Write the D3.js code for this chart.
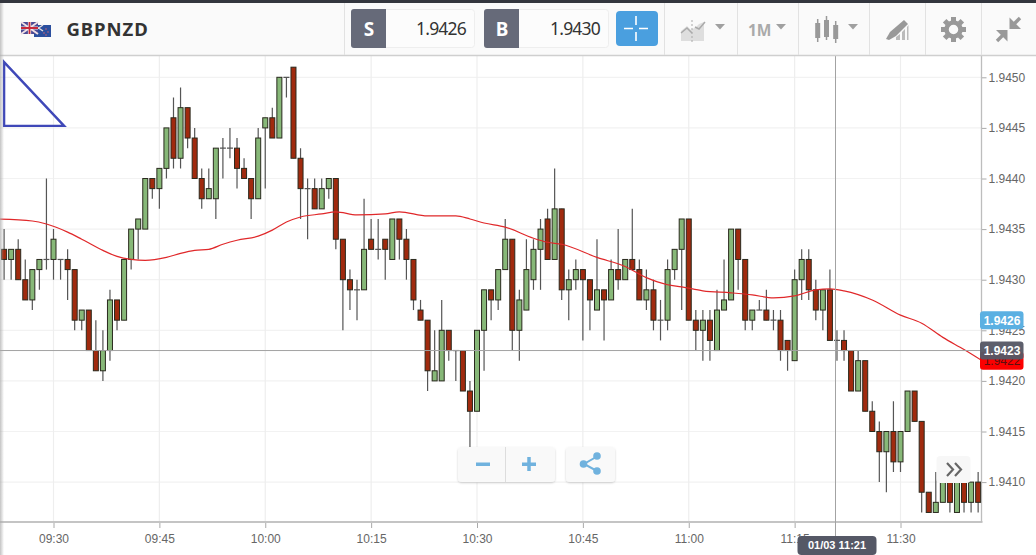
<!DOCTYPE html>
<html lang="en">
<head>
<meta charset="UTF-8">
<title>GBPNZD</title>
<script src="https://d3js.org/d3.v7.min.js"></script>
<style>
  html, body { margin: 0; padding: 0; background: #fff; overflow: hidden; }
  svg { display: block; }
  .axis-label { font-family: "Liberation Sans", Arial, sans-serif; font-size: 12px; fill: #666; }
  .bar-text { font-family: "Noto Sans", "Open Sans", sans-serif; }
</style>
</head>
<body>
<svg id="chart" width="1036" height="555"></svg>
<script>
// one candle per minute, starting at 09:23
const firstCandle = "09:23";
const opens = [
  1.9433,1.9432,1.9433,1.9430,1.9428,1.9431,1.9432,1.9432,1.9432,1.9432,
  1.9431,1.9426,1.9427,1.9423,1.9421,1.9423,1.9428,1.9426,1.9432,1.9435,
  1.9435,1.9440,1.9439,1.9441,1.9446,1.9442,1.9447,1.9444,1.9440,1.9438,
  1.9438,1.9443,1.9443,1.9443,1.9441,1.9440,1.9438,1.9445,1.9446,1.9444,
  1.9450,1.9451,1.9442,1.9439,1.9439,1.9437,1.9439,1.9440,1.9434,1.9430,
  1.9429,1.9429,1.9434,1.9433,1.9434,1.9432,1.9436,1.9434,1.9432,1.9427,
  1.9426,1.9420,1.9420,1.9425,1.9423,1.9423,1.9419,1.9417,1.9425,1.9429,
  1.9428,1.9431,1.9434,1.9425,1.9427,1.9430,1.9433,1.9436,1.9432,1.9437,
  1.9429,1.9430,1.9431,1.9430,1.9427,1.9429,1.9428,1.9431,1.9430,1.9432,
  1.9431,1.9428,1.9429,1.9426,1.9426,1.9431,1.9433,1.9436,1.9426,1.9425,
  1.9426,1.9423,1.9427,1.9428,1.9435,1.9432,1.9426,1.9427,1.9427,1.9426,
  1.9426,1.9424,1.9422,1.9430,1.9432,1.9429,1.9427,1.9429,1.9424,1.9424,
  1.9423,1.9419,1.9422,1.9417,1.9415,1.9413,1.9415,1.9412,1.9415,1.9419,
  1.9416,1.9409,1.9407,1.9408,1.9410,1.9407,1.9410,1.9408,1.9410
];
const highs = [
  1.9435,1.9433,1.9434,1.9432,1.9431,1.9432,1.9440,1.9435,1.9432,1.9433,
  1.9431,1.9427,1.9427,1.9426,1.9425,1.9429,1.9428,1.9432,1.9435,1.9436,
  1.9440,1.9440,1.9441,1.9445,1.9448,1.9449,1.9447,1.9445,1.9441,1.9441,
  1.9443,1.9444,1.9445,1.9444,1.9442,1.9440,1.9445,1.9446,1.9447,1.9450,
  1.9450,1.9451,1.9443,1.9440,1.9440,1.9440,1.9440,1.9440,1.9434,1.9431,
  1.9430,1.9438,1.9436,1.9436,1.9434,1.9436,1.9436,1.9435,1.9432,1.9428,
  1.9426,1.9425,1.9428,1.9425,1.9423,1.9423,1.9420,1.9425,1.9429,1.9429,
  1.9431,1.9436,1.9434,1.9429,1.9434,1.9434,1.9436,1.9437,1.9441,1.9437,
  1.9431,1.9432,1.9431,1.9430,1.9434,1.9429,1.9432,1.9435,1.9432,1.9437,
  1.9432,1.9431,1.9430,1.9428,1.9432,1.9433,1.9436,1.9436,1.9427,1.9427,
  1.9427,1.9429,1.9432,1.9435,1.9435,1.9432,1.9427,1.9428,1.9429,1.9427,
  1.9427,1.9424,1.9431,1.9433,1.9433,1.9430,1.9429,1.9431,1.9425,1.9425,
  1.9423,1.9423,1.9422,1.9418,1.9416,1.9415,1.9418,1.9415,1.9419,1.9419,
  1.9416,1.9409,1.9411,1.9410,1.9410,1.9410,1.9410,1.9410,1.9411
];
const lows = [
  1.9430,1.9430,1.9430,1.9428,1.9427,1.9429,1.9431,1.9430,1.9430,1.9428,
  1.9425,1.9425,1.9423,1.9421,1.9420,1.9422,1.9425,1.9426,1.9431,1.9432,
  1.9435,1.9438,1.9437,1.9440,1.9441,1.9441,1.9443,1.9440,1.9437,1.9438,
  1.9436,1.9440,1.9442,1.9439,1.9440,1.9436,1.9438,1.9439,1.9444,1.9444,
  1.9448,1.9442,1.9436,1.9434,1.9437,1.9437,1.9438,1.9433,1.9425,1.9427,
  1.9426,1.9429,1.9433,1.9432,1.9430,1.9432,1.9432,1.9430,1.9427,1.9426,
  1.9419,1.9420,1.9420,1.9422,1.9420,1.9419,1.9413,1.9417,1.9421,1.9426,
  1.9427,1.9431,1.9423,1.9422,1.9427,1.9429,1.9429,1.9432,1.9432,1.9428,
  1.9426,1.9429,1.9424,1.9425,1.9427,1.9424,1.9428,1.9429,1.9430,1.9431,
  1.9428,1.9427,1.9425,1.9424,1.9425,1.9430,1.9427,1.9426,1.9423,1.9422,
  1.9422,1.9423,1.9427,1.9428,1.9429,1.9425,1.9425,1.9427,1.9426,1.9425,
  1.9422,1.9421,1.9422,1.9428,1.9428,1.9426,1.9425,1.9424,1.9422,1.9422,
  1.9419,1.9419,1.9417,1.9415,1.9410,1.9409,1.9411,1.9411,1.9415,1.9416,
  1.9407,1.9407,1.9407,1.9408,1.9407,1.9407,1.9407,1.9407,1.9407
];
const closes = [
  1.9432,1.9433,1.9430,1.9428,1.9431,1.9432,1.9432,1.9434,1.9432,1.9431,
  1.9426,1.9427,1.9423,1.9421,1.9423,1.9428,1.9426,1.9432,1.9435,1.9436,
  1.9440,1.9439,1.9441,1.9445,1.9442,1.9447,1.9444,1.9440,1.9438,1.9439,
  1.9443,1.9443,1.9443,1.9441,1.9440,1.9438,1.9444,1.9446,1.9444,1.9450,
  1.9450,1.9442,1.9439,1.9439,1.9437,1.9439,1.9440,1.9434,1.9430,1.9429,
  1.9429,1.9433,1.9433,1.9433,1.9433,1.9436,1.9434,1.9432,1.9428,1.9426,
  1.9421,1.9421,1.9425,1.9423,1.9423,1.9419,1.9417,1.9425,1.9429,1.9428,
  1.9431,1.9434,1.9425,1.9428,1.9431,1.9433,1.9435,1.9432,1.9437,1.9429,
  1.9430,1.9431,1.9430,1.9428,1.9429,1.9428,1.9431,1.9430,1.9432,1.9431,
  1.9428,1.9429,1.9426,1.9426,1.9431,1.9433,1.9436,1.9426,1.9425,1.9426,
  1.9424,1.9427,1.9428,1.9435,1.9432,1.9426,1.9427,1.9427,1.9426,1.9426,
  1.9423,1.9423,1.9430,1.9432,1.9429,1.9427,1.9429,1.9424,1.9424,1.9423,
  1.9419,1.9422,1.9417,1.9415,1.9413,1.9415,1.9412,1.9415,1.9419,1.9416,
  1.9409,1.9407,1.9408,1.9410,1.9408,1.9410,1.9408,1.9410,1.9408
];

// moving average, read at these candle numbers (0 = 09:23)
const maCandle = [
  -1,4,6,9,11,14,16,18,20,23,25,27,29,31,33,36,38,40,42,45,47,50,54,56,60,62,64,66,68,71,
  75,77,79,84,88,91,94,96,99,103,106,109,112,115,117,119,123,127,130,133,136,139
];
const maValues = [
  1.94360,1.94358,1.94355,1.94347,1.94340,1.94329,1.94323,1.94320,1.94319,1.94322,
  1.94326,1.94329,1.94330,1.94335,1.94339,1.94343,1.94349,1.94357,1.94362,1.94365,
  1.94367,1.94364,1.94365,1.94367,1.94363,1.94363,1.94363,1.94360,1.94356,1.94352,
  1.94341,1.94337,1.94335,1.94322,1.94313,1.94302,1.94295,1.94293,1.94289,1.94287,
  1.94285,1.94282,1.94284,1.94290,1.94291,1.94289,1.94280,1.94265,1.94257,1.94243,
  1.94231,1.94218
];

const priceTicks = [1.9450,1.9445,1.9440,1.9435,1.9430,1.9425,1.9420,1.9415,1.9410];
const timeTicks = ["09:30","09:45","10:00","10:15","10:30","10:45","11:00","11:15","11:30"];

const sellPrice = 1.9426, buyPrice = 1.9430;
const crossPrice = 1.9423, crossTime = "11:21", crossDate = "01/03";
const lastPrice = 1.9422;

// the triangle somebody drew on the chart
const triangleTimes = ["09:23:00","09:31:30","09:23:00"];
const trianglePrices = [1.94515,1.94452,1.94452];

const day = t => new Date("2018-01-03T" + (t.length < 6 ? t + ":00" : t));
const start = day(firstCandle);
const candles = opens.map((o, i) => ({
  t: d3.timeMinute.offset(start, i), o, h: highs[i], l: lows[i], c: closes[i]
}));
const ma = maCandle.map((n, i) => ({ t: d3.timeMinute.offset(start, n), v: maValues[i] }));

const plotRight = 981.5, plotTop = 55, plotBottom = 522;

const x = d3.scaleTime().domain([day("09:30"), day("11:30")]).range([53.5, 900.5]);
const y = d3.scaleLinear().domain([1.9410, 1.9450]).range([482.1, 77.3]);

const svg = d3.select("#chart");

svg.append("clipPath").attr("id", "plot").append("rect")
  .attr("x", 0).attr("y", plotTop).attr("width", plotRight).attr("height", plotBottom - plotTop);

// grid
const grid = svg.append("g");
grid.selectAll(".gy").data(priceTicks).enter().append("line")
  .attr("x1", 0).attr("x2", plotRight)
  .attr("y1", d => y(d)).attr("y2", d => y(d))
  .attr("stroke", "#f2f2f2").attr("stroke-width", 1.2);
grid.selectAll(".gx").data(timeTicks).enter().append("line")
  .attr("x1", d => x(day(d))).attr("x2", d => x(day(d)))
  .attr("y1", plotTop).attr("y2", plotBottom)
  .attr("stroke", "#eeeeee").attr("stroke-width", 1.2);

// axes
const xAxis = svg.append("g")
  .attr("transform", "translate(0," + plotBottom + ")")
  .call(d3.axisBottom(x).tickValues(timeTicks.map(day)).tickFormat(d3.timeFormat("%H:%M")).tickSize(6).tickPadding(6));
xAxis.select(".domain").remove();
xAxis.selectAll("line").attr("stroke", "#aaa");
xAxis.selectAll("text").attr("class", "axis-label").attr("font-family", null).attr("font-size", null).attr("fill", null);

const yAxis = svg.append("g")
  .attr("transform", "translate(" + plotRight + ",0)")
  .call(d3.axisRight(y).tickValues(priceTicks).tickFormat(d3.format(".4f")).tickSize(5).tickPadding(2));
yAxis.select(".domain").remove();
yAxis.selectAll("line").attr("stroke", "#aaa");
yAxis.selectAll("text").attr("class", "axis-label").attr("font-family", null).attr("font-size", null).attr("fill", null);

svg.append("line").attr("x1", 0).attr("x2", plotRight + 1).attr("y1", plotBottom).attr("y2", plotBottom)
  .attr("stroke", "#c4c4c4").attr("stroke-width", 2);
svg.append("line").attr("x1", plotRight).attr("x2", plotRight).attr("y1", plotTop).attr("y2", plotBottom)
  .attr("stroke", "#bdbdbd").attr("stroke-width", 1.3);

// candles
const marks = svg.append("g").attr("clip-path", "url(#plot)");
marks.selectAll(".wick").data(candles).enter().append("line")
  .attr("x1", d => x(d.t)).attr("x2", d => x(d.t))
  .attr("y1", d => y(d.h)).attr("y2", d => y(d.l))
  .attr("stroke", "#555").attr("stroke-width", 1.2);
marks.selectAll(".body").data(candles.filter(d => d.o !== d.c)).enter().append("rect")
  .attr("x", d => x(d.t) - 2.5)
  .attr("width", 5)
  .attr("y", d => y(Math.max(d.o, d.c)))
  .attr("height", d => Math.abs(y(d.o) - y(d.c)))
  .attr("fill", d => d.c > d.o ? "#87b878" : "#a02a0e")
  .attr("stroke", "#2a2a1e").attr("stroke-width", 1);
marks.selectAll(".doji").data(candles.filter(d => d.o === d.c)).enter().append("line")
  .attr("x1", d => x(d.t) - 3).attr("x2", d => x(d.t) + 3)
  .attr("y1", d => y(d.o)).attr("y2", d => y(d.o))
  .attr("stroke", "#555").attr("stroke-width", 1.2);

// moving average
marks.append("path").datum(ma)
  .attr("fill", "none").attr("stroke", "#e0282a").attr("stroke-width", 1.2)
  .attr("d", d3.line().x(d => x(d.t)).y(d => y(d.v)).curve(d3.curveMonotoneX));

// crosshair
const crossX = Math.floor(x(day(crossTime))) - 0.5;
svg.append("line").attr("x1", 0).attr("x2", plotRight)
  .attr("y1", y(crossPrice)).attr("y2", y(crossPrice))
  .attr("stroke", "#a3a3a3").attr("stroke-width", 1);
svg.append("line").attr("x1", crossX).attr("x2", crossX)
  .attr("y1", plotTop).attr("y2", 537)
  .attr("stroke", "#a3a3a3").attr("stroke-width", 1);

// drawn triangle
const triLine = d3.line().x(d => x(day(d[0]))).y(d => y(d[1]));
svg.append("path")
  .attr("clip-path", "url(#plot)")
  .attr("d", triLine(d3.zip(triangleTimes, trianglePrices)) + "Z")
  .attr("fill", "none").attr("stroke", "#3f48b8").attr("stroke-width", 2.4);

// price tags on the right axis
function priceTag(price, fill, textFill, bold, opacity) {
  const g = svg.append("g").attr("transform", "translate(980," + y(price) + ")");
  g.append("rect").attr("x", 0).attr("y", -9).attr("width", 43.5).attr("height", 18).attr("rx", 3)
    .attr("fill", fill).attr("opacity", opacity);
  g.append("text").attr("x", 22).attr("y", 4.5).attr("text-anchor", "middle")
    .attr("font-family", "Liberation Sans, Arial, sans-serif").attr("font-size", 12)
    .attr("font-weight", bold ? "bold" : "normal").attr("fill", textFill)
    .text(d3.format(".4f")(price));
}
priceTag(lastPrice, "#fc0000", "#5a1010", false, 1);
priceTag(sellPrice, "#5bb0e2", "#fff", true, 1);
priceTag(crossPrice, "#565866", "#fff", true, 0.96);

// crosshair time label
const timeTag = svg.append("g");
timeTag.append("rect").attr("x", crossX - 38).attr("y", 536).attr("width", 79).attr("height", 19).attr("rx", 4)
  .attr("fill", "#555866");
timeTag.append("text").attr("x", crossX + 1.5).attr("y", 549).attr("text-anchor", "middle")
  .attr("font-family", "Liberation Sans, Arial, sans-serif").attr("font-size", 11).attr("font-weight", "bold")
  .attr("fill", "#fff").text(crossDate + " " + crossTime);

// floating buttons
const defs = svg.append("defs");
const shadow = defs.append("filter").attr("id", "soft").attr("x", "-20%").attr("y", "-20%").attr("width", "140%").attr("height", "150%");
shadow.append("feDropShadow").attr("dx", 0).attr("dy", 1).attr("stdDeviation", 1).attr("flood-color", "#000").attr("flood-opacity", 0.18);

function floatBox(bx, by, w, h) {
  svg.append("rect").attr("x", bx).attr("y", by).attr("width", w).attr("height", h).attr("rx", 4)
    .attr("fill", "#f9f9f9").attr("filter", "url(#soft)");
}
floatBox(458, 447, 97, 35);
svg.append("line").attr("x1", 505.5).attr("x2", 505.5).attr("y1", 447).attr("y2", 482).attr("stroke", "#ddd");
svg.append("rect").attr("x", 476).attr("y", 462.5).attr("width", 14).attr("height", 3.5).attr("fill", "#70b2de");
svg.append("path").attr("d", "M522,464.2H536M529,457V471").attr("stroke", "#70b2de").attr("stroke-width", 3.5).attr("fill", "none");

floatBox(566, 447, 49, 35);
svg.append("path").attr("d", "M597,456.5L584,464L597,471").attr("stroke", "#70b2de").attr("stroke-width", 2).attr("fill", "none");
[[597, 456], [583.5, 464], [597, 471]].forEach(p => {
  svg.append("circle").attr("cx", p[0]).attr("cy", p[1]).attr("r", 3.8).attr("fill", "#70b2de");
});

svg.append("rect").attr("x", 936.5).attr("y", 456).attr("width", 34).attr("height", 27).attr("rx", 4).attr("fill", "#f7f7f7");
svg.append("path").attr("d", "M947,463L953,469.5L947,476M955,463L961,469.5L955,476")
  .attr("stroke", "#666").attr("stroke-width", 2.2).attr("fill", "none");

// ---- top bar ----
const bar = svg.append("g");
bar.append("rect").attr("x", 0).attr("y", 0).attr("width", 1036).attr("height", 55).attr("fill", "#fafafa");
bar.append("rect").attr("x", 0).attr("y", 0).attr("width", 1036).attr("height", 3).attr("fill", "#33363e");
bar.append("line").attr("x1", 0).attr("x2", 1036).attr("y1", 55.5).attr("y2", 55.5).attr("stroke", "#cfcfcf").attr("stroke-width", 1.3);
[344.5, 664.5, 737.5, 798.5, 869.5, 925.5, 981.5].forEach(d => {
  bar.append("line").attr("x1", d).attr("x2", d).attr("y1", 3).attr("y2", 55).attr("stroke", "#e2e2e2");
});

// flags
bar.append("rect").attr("x", 34).attr("y", 25).attr("width", 17).attr("height", 12).attr("fill", "#2b4f9e");
bar.append("path").attr("d", "M34,25L43,31M43,25L34,31").attr("stroke", "#e8dede").attr("stroke-width", 1.5);
[[46, 29], [48, 32], [44, 33], [46, 35]].forEach(p => {
  bar.append("circle").attr("cx", p[0]).attr("cy", p[1]).attr("r", 0.7).attr("fill", "#e66");
});
bar.append("rect").attr("x", 21).attr("y", 22).attr("width", 17).attr("height", 12).attr("fill", "#4a4a94");
bar.append("path").attr("d", "M21,22L38,34M38,22L21,34").attr("stroke", "#f0dfe4").attr("stroke-width", 2);
bar.append("path").attr("d", "M29.5,22V34M21,28H38").attr("stroke", "#eee").attr("stroke-width", 3.2);
bar.append("path").attr("d", "M29.5,22V34M21,28H38").attr("stroke", "#c8283a").attr("stroke-width", 1.8);

bar.append("text").attr("class", "bar-text").attr("x", 66.5).attr("y", 36)
  .attr("font-size", 18.5).attr("font-weight", "bold").attr("fill", "#333").attr("letter-spacing", 0.95).text("GBPNZD");

function quoteBox(bx, letter, price, w) {
  bar.append("rect").attr("x", bx + 0.5).attr("y", 9.5).attr("width", w).attr("height", 38).attr("rx", 3)
    .attr("fill", "#fcfcfc").attr("stroke", "#eee");
  bar.append("path").attr("d", `M${bx + 35},9 H${bx + 3} a3,3 0 0 0 -3,3 V45 a3,3 0 0 0 3,3 H${bx + 35} Z`).attr("fill", "#666a79");
  bar.append("text").attr("class", "bar-text").attr("x", bx + 18).attr("y", 35.5).attr("text-anchor", "middle")
    .attr("font-size", 19).attr("font-weight", "bold").attr("fill", "#fff").text(letter);
  bar.append("text").attr("class", "bar-text").attr("x", bx + w - 8).attr("y", 34.5).attr("text-anchor", "end")
    .attr("font-size", 17.5).attr("fill", "#333").attr("letter-spacing", -0.8).text(d3.format(".4f")(price));
}
quoteBox(351, "S", sellPrice, 123);
quoteBox(484, "B", buyPrice, 124);

// crosshair button
bar.append("rect").attr("x", 616).attr("y", 11).attr("width", 42).attr("height", 35).attr("rx", 4).attr("fill", "#4a9fdf");
bar.append("path").attr("d", "M624,28.5H633M639,28.5H648M636,16V25M636,32V41").attr("stroke", "#fff").attr("stroke-width", 1.6);

// chart type icon
bar.append("path").attr("d", "M681,41V31L687,26L691,30L696,27L699,24L704,22V41Z").attr("fill", "#dedede");
bar.append("path").attr("d", "M681,33L687,28L692,33M695,27L699,29L705,22").attr("stroke", "#aaa").attr("stroke-width", 1.5).attr("fill", "none");
bar.append("line").attr("x1", 692).attr("x2", 692).attr("y1", 20).attr("y2", 42).attr("stroke", "#aaa").attr("stroke-dasharray", "2,2");

const caret = cx => bar.append("path").attr("d", `M${cx - 5},24H${cx + 5}L${cx},29.5Z`).attr("fill", "#a0a0a0");
caret(720); caret(781); caret(853);

bar.append("text").attr("class", "bar-text").attr("x", 748).attr("y", 36)
  .attr("font-size", 15.5).attr("font-weight", "bold").attr("fill", "#aaa").text("1M");

// candle type icon
[[817.7, 23, 38, 19, 42], [826.5, 20, 37, 16, 40], [835.7, 25, 39, 21, 43]].forEach(c => {
  bar.append("line").attr("x1", c[0]).attr("x2", c[0]).attr("y1", c[3]).attr("y2", c[4]).attr("stroke", "#999").attr("stroke-width", 1.5);
  bar.append("rect").attr("x", c[0] - 2.5).attr("y", c[1]).attr("width", 5).attr("height", c[2] - c[1]).attr("fill", "#999");
});

// drawing tool icon
bar.append("path").attr("d", "M886,39L890,32L904,20L908,24L896,36L889,40Z").attr("fill", "#999");
bar.append("path").attr("d", "M896,40V37L900,34V40ZM902,40V32L905,29V40ZM907,40V27L908.500,25V40Z").attr("fill", "#bbb");

// gear
bar.append("circle").attr("cx", 953.5).attr("cy", 29.5).attr("r", 7).attr("fill", "none").attr("stroke", "#999").attr("stroke-width", 4.5);
d3.range(8).forEach(i => {
  bar.append("rect").attr("x", 951).attr("y", 17).attr("width", 5).attr("height", 4).attr("fill", "#999")
    .attr("transform", `rotate(${i * 45} 953.500 29.500)`);
});

// compress arrows
bar.append("path").attr("d", "M1020,18L1012,26").attr("stroke", "#999").attr("stroke-width", 3.4);
bar.append("path").attr("d", "M1009.500,17.500V29H1021Z").attr("fill", "#999");
bar.append("path").attr("d", "M997,41L1004,34").attr("stroke", "#999").attr("stroke-width", 3.4);
bar.append("path").attr("d", "M996,30H1007.500V41.500Z").attr("fill", "#999");

// shadow along the left edge
const grad = defs.append("linearGradient").attr("id", "edge");
grad.append("stop").attr("offset", "0").attr("stop-color", "#aaa").attr("stop-opacity", 0.7);
grad.append("stop").attr("offset", "1").attr("stop-color", "#aaa").attr("stop-opacity", 0);
svg.append("rect").attr("x", 0).attr("y", 3).attr("width", 4).attr("height", 552).attr("fill", "url(#edge)");
</script>
</body>
</html>
